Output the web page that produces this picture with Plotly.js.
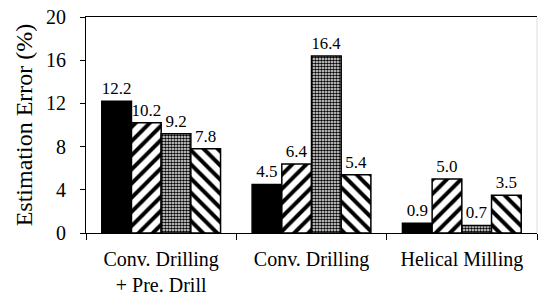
<!DOCTYPE html>
<html>
<head>
<meta charset="utf-8">
<script src="https://cdn.plot.ly/plotly-3.0.1.min.js"></script>
<style>html,body{margin:0;padding:0;background:#fff;}#chart{width:538px;height:296px;}</style>
</head>
<body>
<div id="chart"></div>
<script>
var categories = ["Conv. Drilling<br>+ Pre. Drill", "Conv. Drilling", "Helical Milling"];
var seriesA = [12.2, 4.5, 0.9];
var seriesB = [10.2, 6.4, 5.0];
var seriesC = [9.2, 16.4, 0.7];
var seriesD = [7.8, 5.4, 3.5];
var yTicks = [0, 4, 8, 12, 16, 20];

var font = "Liberation Serif, Times New Roman, serif";
function bar(vals, pattern) {
  var m = {color: pattern ? "white" : "black", line: {color: "black", width: 1.5}};
  if (pattern) m.pattern = pattern;
  return {
    type: "bar", x: categories, y: vals, marker: m,
    texttemplate: "%{y:.1f}", textposition: "outside", cliponaxis: false,
    textfont: {family: font, size: 17, color: "black"}, showlegend: false, hoverinfo: "none"
  };
}
var data = [
  bar(seriesA, null),
  bar(seriesB, {shape: "/", fgcolor: "black", bgcolor: "white", size: 10, solidity: 0.4}),
  bar(seriesC, {shape: ".", fgcolor: "black", bgcolor: "white", size: 3, solidity: 0.6}),
  bar(seriesD, {shape: "\\", fgcolor: "black", bgcolor: "white", size: 10, solidity: 0.4})
];
var layout = {
  width: 538, height: 296,
  margin: {l: 86, r: 1, t: 17, b: 63},
  paper_bgcolor: "white", plot_bgcolor: "white",
  barmode: "group", bargap: 0.21, bargroupgap: 0,
  font: {family: font, color: "black"},
  xaxis: {
    type: "category", showline: true, linecolor: "black", linewidth: 1,
    mirror: true, ticks: "outside", ticklen: 6, tickcolor: "black", tickson: "boundaries",
    ticklabelstandoff: 8,
    tickfont: {family: font, size: 20, color: "black"}, showgrid: false, zeroline: false
  },
  yaxis: {
    range: [0, 20], tickvals: yTicks, ticktext: yTicks.map(String),
    showline: true, linecolor: "black", linewidth: 1,
    ticks: "outside", ticklen: 5, tickcolor: "black", ticklabelstandoff: 10,
    tickfont: {family: font, size: 20, color: "black"},
    showgrid: false, zeroline: false,
    title: {text: "Estimation Error (%)", font: {family: font, size: 24, color: "black"}, standoff: 6}
  },
  shapes: [{type: "line", xref: "paper", yref: "paper", x0: 1, x1: 1, y0: 0, y1: 1,
            line: {color: "#dddddd", width: 1}}]
};
Plotly.newPlot("chart", data, layout, {staticPlot: true, displayModeBar: false});
</script>
</body>
</html>
